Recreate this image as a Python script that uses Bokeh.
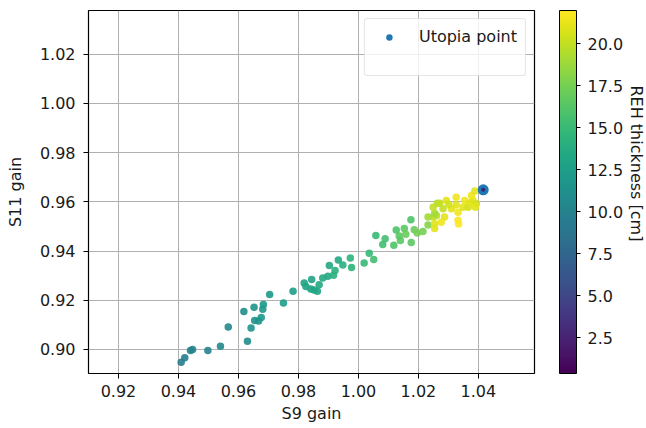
from bokeh.plotting import figure
from bokeh.models import (ColumnDataSource, LinearColorMapper, ColorBar, FixedTicker,
                          Range1d, Title, Legend, LegendItem, NumeralTickFormatter)
from bokeh.palettes import Viridis256
from bokeh.transform import transform
from bokeh.embed import file_html
from bokeh.resources import INLINE

# ---- data ----
s9_gain = [0.9409, 0.9421, 0.9440, 0.9447, 0.9498, 0.9540, 0.9566, 0.9630, 0.9642, 0.9618,
           0.9652, 0.9654, 0.9667, 0.9676, 0.9681, 0.9683, 0.9704, 0.9750, 0.9782, 0.9819,
           0.9825, 0.9844, 0.9841, 0.9852, 0.9863, 0.9869, 0.9881, 0.9898, 0.9903, 0.9917,
           0.9922, 0.9933, 0.9948, 0.9973, 0.9977, 1.0019, 1.0036, 1.0051, 1.0058, 1.0081,
           1.0089, 1.0118, 1.0126, 1.0136, 1.0140, 1.0153, 1.0158, 1.0175, 1.0176, 1.0186,
           1.0196, 1.0215, 1.0232, 1.0254, 1.0249, 1.0254, 1.0260, 1.0232, 1.0287, 1.0276,
           1.0254, 1.0263, 1.0271, 1.0282, 1.0293, 1.0310, 1.0326, 1.0326, 1.0332, 1.0332,
           1.0334, 1.0349, 1.0354, 1.0366, 1.0371, 1.0382, 1.0393, 1.0377, 1.0388, 1.0390,
           1.0249, 1.0301]
s11_gain = [0.8948, 0.8966, 0.8996, 0.9000, 0.8996, 0.9013, 0.9091, 0.9033, 0.9087, 0.9154,
            0.9171, 0.9118, 0.9115, 0.9130, 0.9163, 0.9183, 0.9223, 0.9189, 0.9236, 0.9270,
            0.9256, 0.9284, 0.9246, 0.9242, 0.9236, 0.9263, 0.9290, 0.9297, 0.9341, 0.9301,
            0.9321, 0.9364, 0.9343, 0.9372, 0.9333, 0.9351, 0.9391, 0.9366, 0.9463, 0.9427,
            0.9450, 0.9423, 0.9485, 0.9461, 0.9443, 0.9492, 0.9468, 0.9527, 0.9435, 0.9487,
            0.9473, 0.9479, 0.9506, 0.9492, 0.9538, 0.9511, 0.9544, 0.9538, 0.9538, 0.9517,
            0.9554, 0.9594, 0.9594, 0.9572, 0.9605, 0.9572, 0.9619, 0.9588, 0.9558, 0.9525,
            0.9510, 0.9578, 0.9605, 0.9578, 0.9596, 0.9605, 0.9592, 0.9626, 0.9644, 0.9578,
            0.9578, 0.9590]
reh_thickness = [9.5, 9.5, 10.0, 10.0, 10.0, 10.5, 10.5, 11.0, 11.5, 11.0,
                 11.5, 11.5, 11.5, 12.0, 12.0, 12.0, 12.0, 12.5, 12.5, 13.0,
                 13.0, 13.0, 13.0, 13.0, 13.0, 13.5, 13.5, 13.5, 13.5, 14.0,
                 14.0, 13.5, 14.0, 14.5, 14.5, 15.0, 15.0, 15.5, 15.0, 15.5,
                 15.5, 16.0, 16.0, 16.5, 16.5, 16.5, 17.0, 16.0, 16.5, 17.0,
                 17.5, 17.5, 18.0, 21.0, 20.0, 21.0, 19.5, 19.0, 21.0, 21.5,
                 19.0, 19.5, 20.0, 20.0, 21.0, 21.0, 21.5, 21.0, 21.5, 21.8,
                 21.98, 21.0, 21.5, 20.5, 21.0, 21.0, 20.5, 21.5, 21.0, 21.0,
                 20.0, 20.5]
utopia_s9 = [1.0416]
utopia_s11 = [0.9649]
utopia_thickness = [0.38]

cbar_ticks = [2.5, 5.0, 7.5, 10.0, 12.5, 15.0, 17.5, 20.0]
x_ticks = [0.92, 0.94, 0.96, 0.98, 1.00, 1.02, 1.04]
y_ticks = [0.90, 0.92, 0.94, 0.96, 0.98, 1.00, 1.02]

FONT = "DejaVu Sans"
FS = "16px"
TXT = "#1a1a1a"

all_t = reh_thickness + utopia_thickness
mapper = LinearColorMapper(palette=Viridis256, low=min(all_t), high=max(all_t))

p = figure(frame_width=446, frame_height=363, output_backend="svg", toolbar_location=None,
           x_range=Range1d(0.910, 1.0587), y_range=Range1d(0.8902, 1.0378),
           min_border_left=88, min_border_top=10, min_border_bottom=55, min_border_right=0)
p.background_fill_color = "white"
p.border_fill_color = "white"
p.outline_line_color = "black"
p.outline_line_width = 1.2

src = ColumnDataSource(dict(x=s9_gain, y=s11_gain, t=reh_thickness))
p.scatter("x", "y", source=src, size=7.5, line_color=None,
          fill_color=transform("t", mapper), fill_alpha=0.9)

usrc = ColumnDataSource(dict(x=utopia_s9, y=utopia_s11, t=utopia_thickness))
ut = p.scatter("x", "y", source=usrc, size=11, fill_color="#1f77b4", line_color=None)
p.scatter("x", "y", source=usrc, size=4, line_color=None,
          fill_color=transform("t", mapper), fill_alpha=0.7)

blank = p.scatter("x", "y", source=usrc, size=1, fill_alpha=0, line_alpha=0)

legend = Legend(items=[LegendItem(label="Utopia point", renderers=[ut]),
                       LegendItem(label=" ", renderers=[blank])],
                location="top_right")
legend.label_text_font = FONT
legend.label_text_font_size = FS
legend.label_text_color = TXT
legend.padding = 8
legend.spacing = 5
legend.glyph_width = 32
legend.glyph_height = 16
legend.label_height = 16
legend.label_standoff = 14
legend.margin = 8
legend.border_line_color = "#cccccc"
legend.border_line_width = 1
legend.border_radius = 3
legend.background_fill_alpha = 0.8
p.add_layout(legend)

for ax in (p.xaxis[0], p.yaxis[0]):
    ax.major_label_text_font = FONT
    ax.major_label_text_font_size = FS
    ax.axis_label_text_font = FONT
    ax.axis_label_text_font_size = FS
    ax.axis_label_text_font_style = "normal"
    ax.major_tick_out = 5
    ax.major_tick_in = 0
    ax.minor_tick_out = 0
    ax.minor_tick_in = 0
    ax.axis_line_color = None
    ax.major_tick_line_color = "black"
    ax.major_label_text_color = TXT
    ax.axis_label_text_color = TXT

p.xaxis.ticker = FixedTicker(ticks=x_ticks)
p.yaxis.ticker = FixedTicker(ticks=y_ticks)
p.xaxis.formatter = NumeralTickFormatter(format="0.00")
p.yaxis.formatter = NumeralTickFormatter(format="0.00")
p.xaxis.axis_label = "S9 gain"
p.yaxis.axis_label = "S11 gain"
p.xaxis.major_label_standoff = 6
p.yaxis.major_label_standoff = 8
p.xaxis.axis_label_standoff = 4
p.yaxis.axis_label_standoff = 12

p.grid.grid_line_color = "#b0b0b0"
p.grid.grid_line_width = 1
p.xgrid.ticker = FixedTicker(ticks=x_ticks)
p.ygrid.ticker = FixedTicker(ticks=y_ticks)

# spacer between the frame and the colour bar
spacer = Title(text=" ", text_font_size="21px", standoff=0, offset=0)
p.add_layout(spacer, "right")

cbar = ColorBar(color_mapper=mapper, ticker=FixedTicker(ticks=cbar_ticks),
                formatter=NumeralTickFormatter(format="0.0"),
                width=17, margin=0, padding=0,
                major_tick_in=0, major_tick_out=4, major_tick_line_color="black",
                minor_tick_line_color=None, bar_line_color="black",
                major_label_text_font=FONT, major_label_text_font_size=FS,
                major_label_text_color=TXT,
                label_standoff=7, border_line_color=None, background_fill_color=None)
p.add_layout(cbar, "right")

t = Title(text="REH thickness [cm]", align="left", text_font=FONT, text_color=TXT,
          text_font_size=FS, text_font_style="normal", offset=75, standoff=0)
p.add_layout(t, "right")

open("out.html", "w").write(file_html(p, INLINE))
